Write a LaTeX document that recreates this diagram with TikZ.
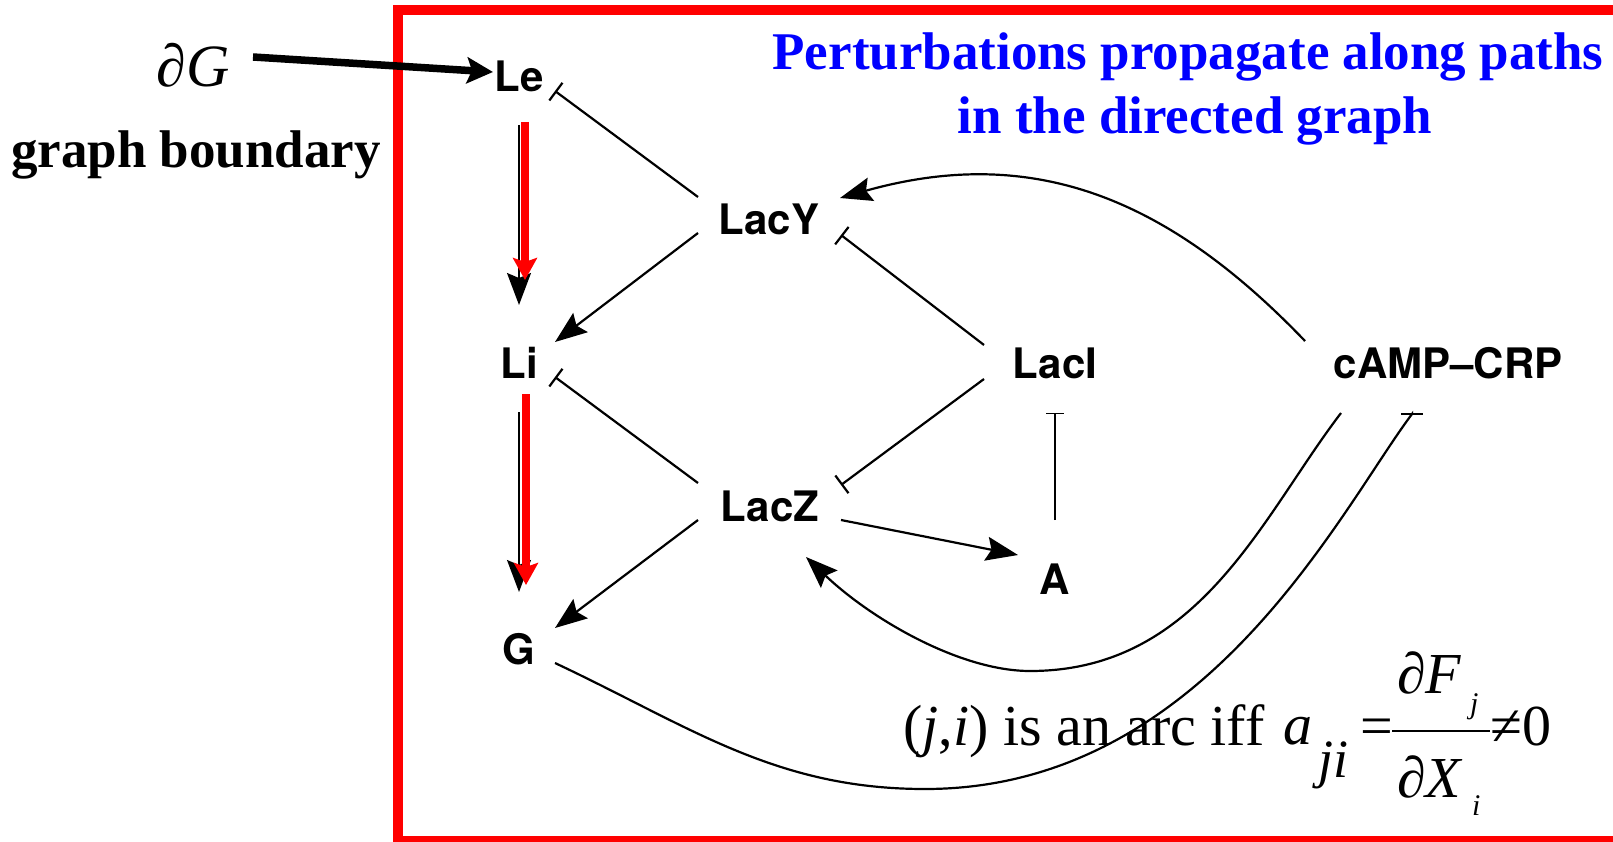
\documentclass[tikz,border=0pt]{standalone}
\usepackage{fontspec}
\setmainfont{Liberation Serif}
\newfontfamily\heros{TeX Gyre Heros}
\usetikzlibrary{arrows.meta}
\begin{document}
\begin{tikzpicture}[x=1pt,y=-1pt,
  lbl/.style={font=\heros\bfseries\fontsize{42}{42}\selectfont, inner sep=0pt},
  ttl/.style={font=\bfseries\fontsize{53}{53}\selectfont, text=blue, inner sep=0pt},
  txt/.style={font=\fontsize{58}{58}\selectfont, inner sep=0pt, anchor=base west},
  subtxt/.style={font=\itshape\fontsize{54}{54}\selectfont, inner sep=0pt, anchor=base west},
  smalltxt/.style={font=\itshape\fontsize{30}{30}\selectfont, inner sep=0pt, anchor=base west},
  edge/.style={line width=2.2pt},
  act/.style={edge, -{Stealth[length=32pt,width=24pt,inset=5pt]}},
  inh/.style={edge, -{Bar[width=22pt,line width=2.2pt]}},
  thininh/.style={line width=1.3pt, -{Bar[width=18pt,line width=1.3pt]}},
  hilite/.style={draw=red, line width=8pt, -{Stealth[length=22pt,width=24pt,inset=4pt]}},
  bigarrow/.style={line width=7.5pt, -{Stealth[length=26pt,width=26pt,inset=5pt]}},
  frame/.style={draw=red, line width=10pt}]
\useasboundingbox (0,0) rectangle (1613,842);
\clip (0,0) rectangle (1613,842);
\draw[frame] (398,10) rectangle (1660,841);

% nodes
\node[lbl] (Le)   at (519,76)  {Le};
\node[lbl] (LacY) at (769,219) {LacY};
\node[lbl] (Li)   at (519,363) {Li};
\node[lbl] (LacZ) at (770,506) {LacZ};
\node[lbl] (G)    at (519,649) {G};
\node[lbl] (LacI) at (1055,363) {LacI};
\node[lbl] (cAMP) at (1448,363) {cAMP–CRP};
\node[lbl] (A)    at (1055,579) {A};

% title and side texts
\node[ttl, anchor=base] (t1) at (1188,70) {Perturbations propagate along paths};
\node[ttl, anchor=base] (t2) at (1195,134) {in the directed graph};
\node[font=\bfseries\fontsize{53}{53}\selectfont, inner sep=0pt, anchor=base] (gb) at (196,168) {graph boundary};
\node[font=\itshape\fontsize{60}{60}\selectfont, inner sep=0pt, anchor=base] (dG) at (193,87) {∂G};

% equation
\node[txt] (eq1) at (903,745) {(\textit{j},\textit{i}) is an arc iff};
\node[txt] (eqa) at (1283,744) {\textit{a}};
\node[subtxt] (eqji) at (1318,777) {ji};
\node[txt] (eqeq) at (1360,745) {=};
\draw[line width=2pt] (1392,731) -- (1490,731);
\node[txt] (num) at (1397,693) {\textit{∂F}};
\node[smalltxt] (numj) at (1470,713) {j};
\node[txt] (den) at (1397,797) {\textit{∂X}};
\node[smalltxt] (deni) at (1472,815) {i};
\node[txt] (neq) at (1490,745) {≠0};

% boundary arrow
\draw[bigarrow] ([shift={(60,-30)}]dG.base) -- ([shift={(-26,-4)}]Le.center);

% straight edges
\draw[inh] ([shift={(-71,-22)}]LacY.center) -- ([shift={(36,15)}]Le.center);
\draw[act] ([shift={(-71,14)}]LacY.center) -- ([shift={(36,-21)}]Li.center);
\draw[inh] ([shift={(-72,-23)}]LacZ.center) -- ([shift={(36,14)}]Li.center);
\draw[act] ([shift={(-72,14)}]LacZ.center) -- ([shift={(36,-21)}]G.center);
\draw[inh] ([shift={(-71,-18)}]LacI.center) -- ([shift={(72,16)}]LacY.center);
\draw[inh] ([shift={(-71,16)}]LacI.center) -- ([shift={(71,-21)}]LacZ.center);
\draw[act] ([shift={(71,14)}]LacZ.center) -- ([shift={(-37,-24)}]A.center);
\draw[thininh] ([shift={(0,-59)}]A.center) -- ([shift={(0,50)}]LacI.center);

% vertical edges with red highlight
\draw[act, line width=1.5pt] ([shift={(0,49)}]Le.center) -- ([shift={(0,-58)}]Li.center);
\draw[act, line width=1.5pt] ([shift={(0,49)}]Li.center) -- ([shift={(0,-57)}]G.center);
\draw[hilite] ([shift={(6,46)}]Le.center) -- ([shift={(6,-83)}]Li.center);
\draw[hilite] ([shift={(7,31)}]Li.center) -- ([shift={(7,-64)}]G.center);

% curved edges
\draw[act] ([shift={(-143,-22)}]cAMP.center) .. controls +(-138,-144) and +(192,-54) .. ([shift={(71,-21)}]LacY.center);
\draw[act] ([shift={(-107,50)}]cAMP.center) .. controls +(-79,103) and +(170,0) .. (1030,671)
  .. controls +(-70,0) and +(65,62) .. ([shift={(36,51)}]LacZ.center);
\draw[inh] ([shift={(36,14)}]G.center) .. controls +(136,64) and +(-150,0) .. (925,789)
  .. controls +(280,0) and +(-72,96) .. ([shift={(-36,51)}]cAMP.center) -- ([shift={(-36,50)}]cAMP.center);
\end{tikzpicture}
\end{document}
